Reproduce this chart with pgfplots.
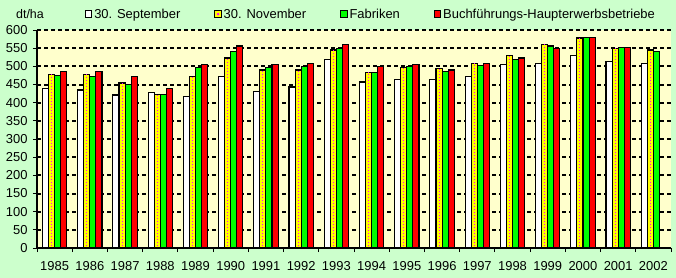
\documentclass[border=0pt]{standalone}
\usepackage{pgfplots}
\pgfplotsset{compat=1.18}
\usepackage{pgfplotstable}
\usepackage{fontspec}
\setmainfont{Liberation Sans}
\definecolor{bggreen}{HTML}{CCFFCC}
\definecolor{plotbg}{HTML}{FFFFCC}
\definecolor{byellow}{HTML}{FFFF00}
\definecolor{bgreen}{HTML}{00FF00}
\definecolor{bred}{HTML}{FF0000}
\definecolor{bmag}{HTML}{FF00FF}

\pgfplotstableread{
x sep nov fab
0 440 478 475
1 435 478 473
2 421 454 450
3 427 423 423
4 418 471 498
5 471 523 542
6 430 490 498
7 443 490 500
8 520 545 548
9 457 484 484
10 465 498 500
11 465 493 487
12 473 509 503
13 504 531 520
14 509 561 556
15 531 578 580
16 514 550 553
17 509 545 542
}\dataA
\pgfplotstableread{
x buch
0 486
1 487
2 471
3 440
4 504
5 556
6 506
7 508
8 559
9 500
10 506
11 490
12 509
13 523
14 548
15 580
16 553
}\dataB

\newcommand{\lbox}[1]{\draw[#1] (0bp,-3.2bp) rectangle (6.4bp,3.2bp);}

\begin{document}
\begin{tikzpicture}
\fill[bggreen] (0,0) rectangle (676bp,278bp);
\node[font=\fontsize{12.5}{14}\selectfont, anchor=center] at (30bp,264bp) {dt/ha};
\begin{axis}[
  at={(37bp,30bp)}, anchor=south west,
  scale only axis, width=634bp, height=218bp,
  xmin=-0.5, xmax=17.5, ymin=0, ymax=600,
  axis background/.style={fill=plotbg},
  axis x line*=bottom, axis y line*=left,
  x axis line style={-, line width=1.2bp},
  y axis line style={-, line width=1.2bp},
  xtick={-0.5,0.5,...,17.5},
  x tick label as interval,
  xticklabels={1985,1986,1987,1988,1989,1990,1991,1992,1993,1994,1995,1996,1997,1998,1999,2000,2001,2002},
  ytick={0,50,...,600},
  tick align=outside, major tick length=4bp,
  tick style={black, line width=1bp},
  ymajorgrids,
  major grid style={black, line width=2bp, dash pattern=on 4bp off 3bp},
  tick label style={font=\fontsize{13}{15}\selectfont},
  /pgf/number format/assume math mode=true,
  yticklabel style={xshift=-2bp},
  xticklabel style={yshift=-6bp},
  legend columns=4,
  legend style={draw=none, fill=none, at={(0.0757,1.073)}, anchor=west,
    font=\fontsize{13}{15}\selectfont, inner sep=0pt, outer sep=0pt,
    /tikz/every even column/.append style={column sep=32bp}},
  legend cell align=left,
]
\addplot[ybar, bar width=6.1bp, bar shift=-9.15bp, fill=white, draw=black, line width=1.1bp,
  legend image code/.code={\lbox{fill=white,draw=black,line width=0.9bp}}]
  table[x=x,y=sep]{\dataA};
\addlegendentry{30. September}
\addplot[ybar, bar width=6.1bp, bar shift=-3.05bp, fill=byellow, draw=black, line width=1.1bp,
  legend image code/.code={\lbox{fill=byellow,draw=black,line width=0.9bp}\fill[bmag] (3.2bp,0) circle (0.6bp);}]
  table[x=x,y=nov]{\dataA};
\addlegendentry{30. November}
\addplot[ybar, bar width=6.1bp, bar shift=3.05bp, fill=bgreen, draw=black, line width=1.1bp,
  legend image code/.code={\lbox{fill=bgreen,draw=black,line width=0.9bp}}]
  table[x=x,y=fab]{\dataA};
\addlegendentry{Fabriken}
\addplot[ybar, bar width=6.1bp, bar shift=9.15bp, fill=bred, draw=black, line width=1.1bp,
  legend image code/.code={\lbox{fill=bred,draw=black,line width=0.9bp}}]
  table[x=x,y=buch]{\dataB};
\addlegendentry{Buchführungs-Haupterwerbsbetriebe}
\addplot[ycomb, no marks, forget plot, draw=bmag, line width=1bp, dash pattern=on 1bp off 2bp, dash phase=1.5bp, xshift=-3.05bp, shorten >=2bp]
  table[x=x,y=nov]{\dataA};
\end{axis}
\pgfresetboundingbox
\useasboundingbox (0,0) rectangle (676bp,278bp);
\end{tikzpicture}
\end{document}
